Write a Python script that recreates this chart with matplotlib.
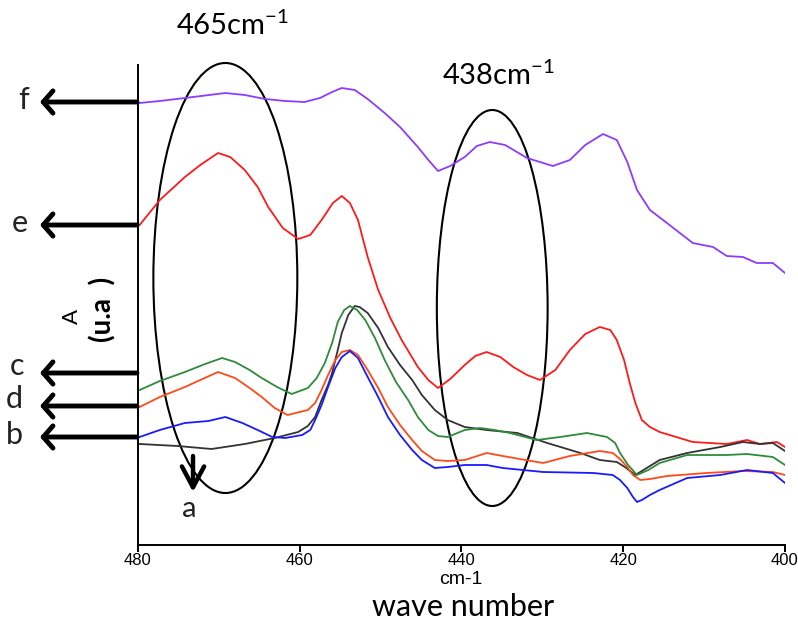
import matplotlib
matplotlib.use("Agg")
import matplotlib.pyplot as plt
from matplotlib.patches import Ellipse

plt.rcParams['font.family'] = ['Lato', 'DejaVu Sans']
plt.rcParams['mathtext.fontset'] = 'custom'
plt.rcParams['mathtext.rm'] = 'Lato'

# ---- data: wavenumber (cm-1) and absorbance (arbitrary units, pixel-scaled) ----
f_x = [479.8, 477.3, 474.2, 469.2, 466.8, 464.3, 461.8, 459.4, 457.5, 456.0, 454.8, 453.2, 451.6, 449.5, 447.6,
       445.4, 444.1, 442.9, 441.4, 439.6, 438.1, 436.5, 434.6, 431.9, 428.7, 426.6, 424.7, 422.5, 420.8, 419.5,
       418.3, 416.7, 414.6, 413.0, 411.4, 408.9, 407.2, 405.2, 403.5, 401.5, 400.0]
f_y = [103, 101, 98, 93, 95, 99, 101, 102, 98, 92, 88, 90, 99, 113, 127,
       147, 160, 171, 166, 157, 146, 142, 145, 158, 166, 160, 145, 134, 140, 162,
       190, 210, 223, 233, 243, 247, 256, 257, 263, 263, 273]

e_x = [479.8, 477.3, 474.2, 472.3, 470.1, 468.6, 466.8, 465.2, 463.9, 462.1, 460.2, 458.7, 457.3, 455.9, 454.8,
       453.8, 452.8, 451.6, 450.3, 448.8, 447.4, 445.4, 444.1, 442.9, 441.4, 439.6, 438.3, 436.9, 435.2, 433.6,
       431.9, 430.3, 428.4, 426.6, 424.7, 422.9, 421.6, 420.8, 419.9, 419.2, 418.5, 417.7, 416.7, 415.5, 411.4,
       407.2, 404.7, 403.1, 401.0, 400.0]
e_y = [225, 200, 177, 165, 153, 157, 170, 187, 207, 228, 239, 235, 220, 203, 196,
       203, 220, 257, 290, 318, 340, 367, 380, 388, 379, 365, 356, 352, 357, 367,
       375, 380, 370, 350, 334, 327, 330, 340, 360, 383, 403, 420, 427, 432, 442,
       444, 440, 444, 442, 447]

c_x = [479.8, 477.3, 474.2, 471.7, 469.6, 468.0, 466.2, 464.7, 462.8, 461.0, 459.0, 457.9, 456.9, 456.0, 455.3,
       454.5, 453.8, 452.9, 451.9, 450.7, 449.5, 448.1, 446.6, 445.4, 444.1, 442.9, 441.7, 439.6, 437.7, 435.9,
       434.0, 430.7, 427.8, 424.5, 422.0, 421.0, 420.4, 419.4, 418.3, 416.9, 415.5, 412.1, 407.2, 404.7, 401.5,
       400.0]
c_y = [390, 381, 372, 364, 358, 362, 370, 378, 387, 394, 388, 378, 363, 343, 322,
       310, 306, 310, 320, 338, 360, 382, 400, 417, 430, 436, 437, 430, 428, 430,
       433, 440, 437, 433, 437, 443, 453, 465, 475, 470, 463, 455, 455, 454, 457,
       465]

d_x = [479.8, 477.3, 474.2, 472.3, 470.1, 468.0, 466.2, 464.7, 463.1, 461.5, 459.0, 458.1, 457.3, 456.5, 455.6,
       454.8, 453.8, 452.8, 451.6, 450.3, 449.1, 447.6, 446.1, 444.9, 443.3, 441.7, 439.6, 436.9, 434.9, 432.8,
       429.9, 426.6, 422.9, 421.3, 420.4, 419.5, 418.8, 417.9, 416.7, 414.6, 409.7, 405.2, 401.5, 400.0]
d_y = [407, 397, 387, 380, 372, 378, 388, 397, 408, 415, 410, 403, 390, 375, 360,
       352, 350, 355, 370, 388, 407, 425, 440, 451, 460, 461, 460, 453, 456, 459,
       463, 456, 451, 453, 459, 467, 475, 480, 479, 476, 473, 471, 472, 475]

b_x = [479.8, 477.3, 474.2, 471.3, 469.2, 467.1, 465.2, 463.4, 461.8, 459.7, 458.7, 458.1, 457.3, 456.5, 455.6,
       454.8, 453.8, 452.8, 451.6, 450.3, 449.1, 447.6, 446.1, 444.9, 443.3, 441.7, 439.6, 436.9, 434.9, 429.9,
       423.7, 421.3, 420.4, 419.5, 418.8, 418.3, 417.7, 416.7, 415.5, 412.1, 408.0, 404.7, 401.5, 400.0]
b_y = [437, 430, 423, 421, 417, 423, 430, 437, 438, 435, 430, 420, 405, 387, 368,
       357, 351, 358, 377, 397, 417, 435, 450, 460, 468, 467, 465, 465, 468, 472,
       473, 475, 480, 488, 497, 502, 500, 495, 490, 478, 475, 470, 473, 483]

a_x = [479.8, 475.1, 470.9, 466.8, 463.1, 460.2, 459.0, 458.1, 457.3, 456.5, 456.0, 455.3, 454.8, 454.0, 453.2,
       452.6, 451.6, 450.3, 449.1, 447.6, 446.1, 444.9, 443.3, 441.7, 439.6, 436.9, 433.1, 429.4, 425.3, 422.9,
       420.8, 419.8, 418.5, 416.9, 415.5, 412.1, 408.0, 405.2, 403.1, 401.5, 400.0]
a_y = [444, 446, 449, 444, 438, 432, 426, 417, 400, 385, 373, 350, 333, 315, 306,
       307, 313, 328, 347, 365, 380, 395, 410, 420, 427, 430, 433, 443, 453, 460,
       462, 467, 475, 467, 460, 453, 447, 442, 444, 443, 451]

x_ticks = [480, 460, 440, 420, 400]
peak_labels = ['465cm$^{-1}$', '438cm$^{-1}$']
curve_labels = ['f', 'e', 'c', 'd', 'b']


def conv(ys):
    return [(545 - v) / 100.0 for v in ys]


fig = plt.figure(figsize=(7.98, 6.28), dpi=100)
W, H = 798, 628
ax = fig.add_axes([138 / W, (H - 545) / H, (785 - 138) / W, (545 - 65) / H])

lw = 1.3
ax.plot(f_x, conv(f_y), color='#8c3cff', lw=lw)
ax.plot(e_x, conv(e_y), color='#ff1a1a', lw=lw)
ax.plot(a_x, conv(a_y), color='#333333', lw=lw)
ax.plot(c_x, conv(c_y), color='#2e8b3a', lw=lw)
ax.plot(d_x, conv(d_y), color='#ff4a1a', lw=lw)
ax.plot(b_x, conv(b_y), color='#1a1aff', lw=lw)

ax.set_xlim(480, 400)
ax.set_ylim(0, 4.8)
ax.set_xticks(x_ticks)
ax.set_xticklabels([str(t) for t in x_ticks], fontfamily='Liberation Sans', fontsize=12)
ax.set_yticks([])
for s in ['top', 'right']:
    ax.spines[s].set_visible(False)
for s in ['left', 'bottom']:
    ax.spines[s].set_linewidth(1.4)
ax.tick_params(axis='x', direction='out', length=5, width=1.4, pad=1)

# ellipses
ax.add_patch(Ellipse((469.2, (545 - 278) / 100), 17.8, 4.30, fill=False, lw=1.5, ec='black', clip_on=False))
ax.add_patch(Ellipse((436.2, (545 - 308) / 100), 13.7, 3.96, fill=False, lw=1.5, ec='black', clip_on=False))

# left arrows with labels
arrow_y = [102, 225, 373, 406, 437]
label_pos = [(24, 100), (20, 223), (17, 366), (14, 399), (14, 435)]
for yy, lab, (lx, ly) in zip(arrow_y, curve_labels, label_pos):
    fig.add_artist(plt.Annotation('', xy=(40, H - yy), xytext=(137, H - yy),
                                  xycoords='figure pixels', textcoords='figure pixels',
                                  arrowprops=dict(arrowstyle='->,head_length=0.7,head_width=0.8',
                                                  lw=3.5, color='black', shrinkA=0, shrinkB=0)))
    fig.text(lx / W, (H - ly) / H, lab, fontsize=22, ha='center', va='center', color='#222222')

# arrow a
fig.add_artist(plt.Annotation('', xy=(193, H - 492), xytext=(193, H - 456),
                              xycoords='figure pixels', textcoords='figure pixels',
                              arrowprops=dict(arrowstyle='->,head_length=1.5,head_width=0.8',
                                              lw=3.2, color='black', shrinkA=0, shrinkB=0)))
fig.text(189 / W, (H - 509) / H, 'a', fontsize=21, ha='center', va='center', color='#222222')

# y label
fig.text(72 / W, (H - 316) / H, 'A', fontsize=16, rotation=90, ha='center', va='center')
fig.text(103 / W, (H - 309) / H, '(u.a  )', fontsize=20, fontweight='bold', rotation=90, ha='center', va='center')

# peak labels
fig.text(176 / W, (H - 35) / H, peak_labels[0], fontsize=21, ha='left', va='baseline')
fig.text(442 / W, (H - 85) / H, peak_labels[1], fontsize=21, ha='left', va='baseline')

# x labels
fig.text(461 / W, (H - 580) / H, 'cm-1', fontsize=14, fontfamily='Liberation Sans', ha='center', va='center')
fig.text(463 / W, (H - 607) / H, 'wave number', fontsize=22, ha='center', va='center')

fig.savefig('out.png', dpi=100)
